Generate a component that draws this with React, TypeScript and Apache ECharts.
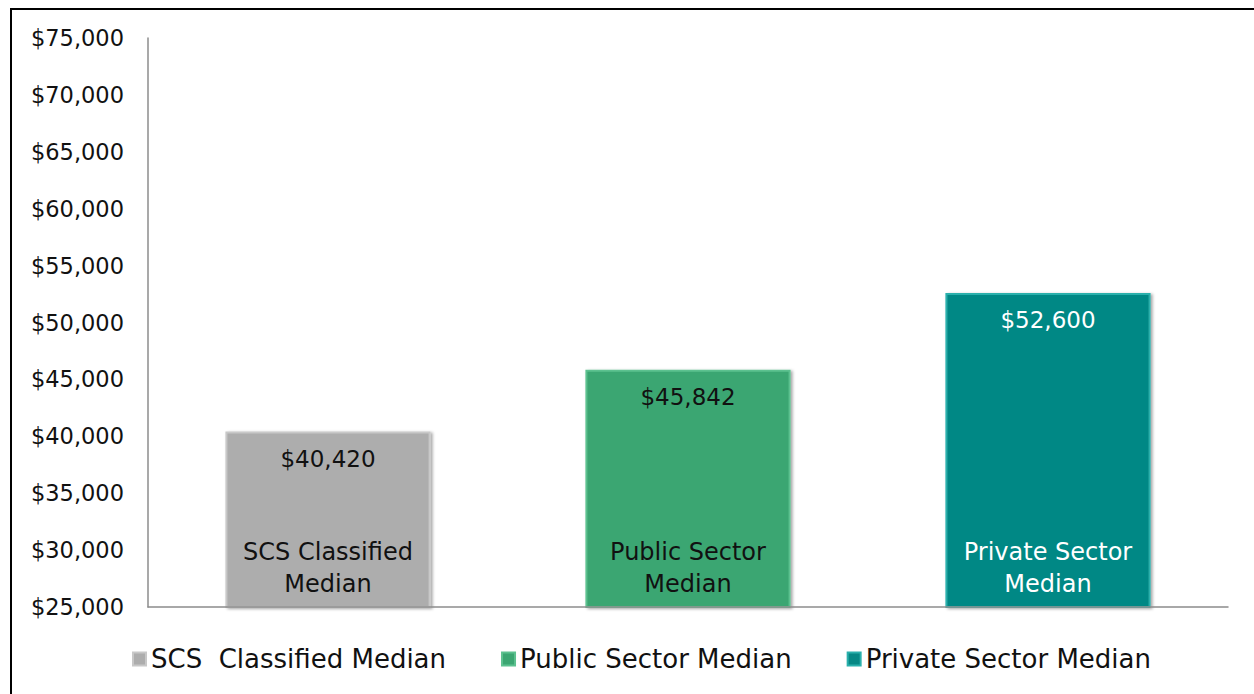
import React, { useEffect, useRef } from "react";
import * as echarts from "echarts";

const categories = ["SCS Classified\nMedian", "Public Sector\nMedian", "Private Sector\nMedian"];
const seriesNames = ["SCS  Classified Median", "Public Sector Median", "Private Sector Median"];
const values = [40420, 45842, 52600];
const colors = ["#ADADAD", "#3BA672", "#068885"];
const borderColors = ["#C8C8C8", "#5CC18F", "#2AB0AC"];
const labelColors = ["#111111", "#111111", "#FFFFFF"];
const yMin = 25000;
const yMax = 75000;
const yInterval = 5000;

const FONT = "DejaVu Sans";

export default function App() {
  const ref = useRef<HTMLDivElement>(null);
  useEffect(() => {
    const chart = echarts.init(ref.current!, undefined, { renderer: "svg" });
    const series = seriesNames.map((name, i) => ({
      name,
      type: "bar",
      barWidth: "57%",
      barGap: "-100%",
      data: values.map((v, j) => (j === i ? v : "-")),
      itemStyle: {
        color: colors[i],
        borderColor: borderColors[i],
        borderWidth: 2,
        shadowColor: "rgba(0,0,0,0.35)",
        shadowBlur: 3,
        shadowOffsetX: 2,
        shadowOffsetY: 1,
      },
      label: {
        show: true,
        position: "insideTop",
        distance: 16,
        color: labelColors[i],
        fontFamily: FONT,
        fontSize: 23,
        formatter: (p: any) => "$" + Number(p.value).toLocaleString("en-US"),
      },
    }));
    chart.setOption({
      animation: false,
      backgroundColor: "#fff",
      textStyle: { fontFamily: FONT },
      graphic: [
        {
          type: "rect",
          shape: { x: 11, y: 9, width: 1270, height: 720 },
          style: { fill: "none", stroke: "#000", lineWidth: 2 },
          silent: true,
        },
      ],
      grid: { left: 148, right: 26, top: 38, bottom: 87, containLabel: false },
      legend: {
        bottom: 17,
        left: 127,
        icon: "rect",
        itemWidth: 13,
        itemHeight: 13,
        itemGap: 55,
        textStyle: { fontFamily: FONT, fontSize: 26, color: "#111" },
        data: seriesNames,
      },
      xAxis: {
        type: "category",
        data: categories,
        axisLine: { lineStyle: { color: "#8C8C8C", width: 1.5 } },
        axisTick: { show: false },
        axisLabel: {
          inside: true,
          margin: 7,
          fontFamily: FONT,
          fontSize: 24,
          lineHeight: 32,
          color: (_v: any, i: number) => labelColors[i],
        },
        z: 10,
      },
      yAxis: {
        type: "value",
        min: yMin,
        max: yMax,
        interval: yInterval,
        axisLine: { show: true, lineStyle: { color: "#8C8C8C", width: 1.5 } },
        axisTick: { show: false },
        splitLine: { show: false },
        axisLabel: {
          margin: 24,
          fontFamily: FONT,
          fontSize: 22.5,
          color: "#111",
          formatter: (v: number) => "$" + v.toLocaleString("en-US"),
        },
      },
      series,
    });
    return () => chart.dispose();
  }, []);
  return (
    <div
      ref={ref}
      style={{ position: "absolute", left: 0, top: 0, width: 1254, height: 694 }}
    />
  );
}
